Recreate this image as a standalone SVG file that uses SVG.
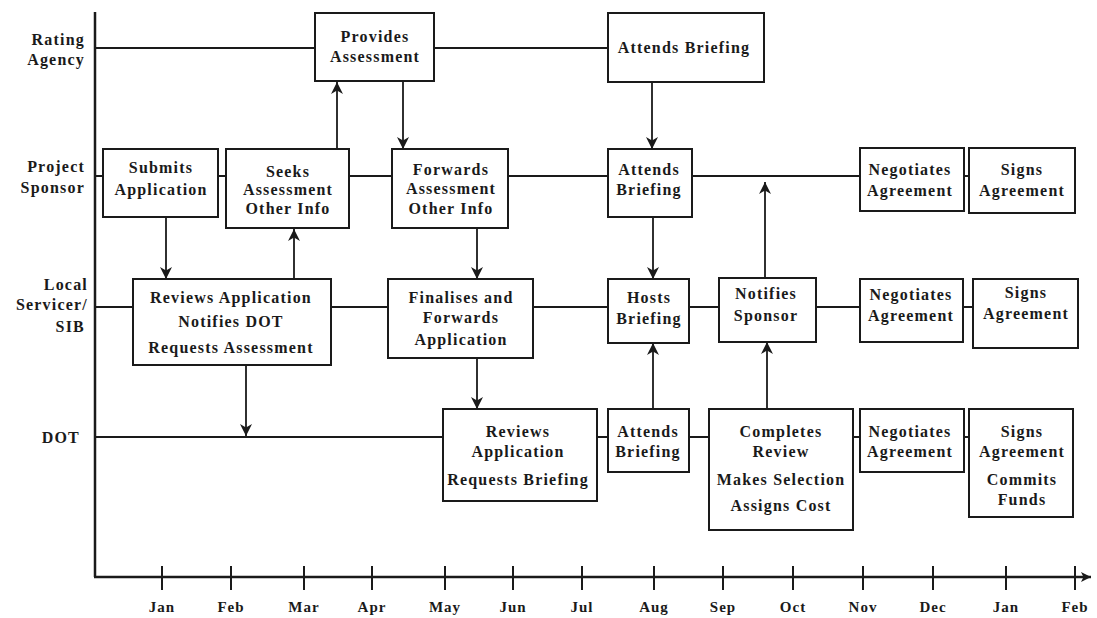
<svg xmlns="http://www.w3.org/2000/svg" width="1097" height="618" viewBox="0 0 1097 618">
<style>
  .bg { fill: #ffffff; }
  .box { fill: #ffffff; stroke: #1a1a1a; stroke-width: 2; }
  .lane { stroke: #1a1a1a; stroke-width: 1.8; fill: none; }
  .conn { stroke: #1a1a1a; stroke-width: 1.8; fill: none; marker-end: url(#arrow); }
  .axis { stroke: #1a1a1a; stroke-width: 2.5; fill: none; }
  .tick { stroke: #1a1a1a; stroke-width: 2; }
  text { font-family: "Liberation Serif", "Times New Roman", serif; font-weight: bold; fill: #1a1a1a; }
  .t { font-size: 16px; letter-spacing: 1.2px; text-anchor: middle; }
  .lbl { font-size: 16px; letter-spacing: 1.2px; text-anchor: end; }
  .mon { font-size: 15px; letter-spacing: 1px; text-anchor: middle; }
</style>
<defs>
  <marker id="arrow" markerUnits="userSpaceOnUse" markerWidth="14" markerHeight="14" refX="12" refY="6" orient="auto">
    <path d="M0,0 L12,6 L0,12 L3.5,6 Z" fill="#1a1a1a"/>
  </marker>
  <marker id="axisarrow" markerUnits="userSpaceOnUse" markerWidth="12" markerHeight="12" refX="10" refY="5" orient="auto">
    <path d="M0,0 L10,5 L0,10 L2.5,5 Z" fill="#1a1a1a"/>
  </marker>
</defs>
<rect class="bg" x="0" y="0" width="1097" height="618"/>

<g id="axes">
  <line class="axis" x1="95" y1="12" x2="95" y2="577"/>
  <line class="axis" x1="94" y1="577" x2="1091" y2="577" marker-end="url(#axisarrow)"/>
  <g id="ticks">
    <line class="tick" x1="162" y1="566" x2="162" y2="590"/>
    <line class="tick" x1="231" y1="566" x2="231" y2="590"/>
    <line class="tick" x1="304" y1="566" x2="304" y2="590"/>
    <line class="tick" x1="372" y1="566" x2="372" y2="590"/>
    <line class="tick" x1="445" y1="566" x2="445" y2="590"/>
    <line class="tick" x1="513" y1="566" x2="513" y2="590"/>
    <line class="tick" x1="582" y1="566" x2="582" y2="590"/>
    <line class="tick" x1="654" y1="566" x2="654" y2="590"/>
    <line class="tick" x1="723" y1="566" x2="723" y2="590"/>
    <line class="tick" x1="793" y1="566" x2="793" y2="590"/>
    <line class="tick" x1="863" y1="566" x2="863" y2="590"/>
    <line class="tick" x1="933" y1="566" x2="933" y2="590"/>
    <line class="tick" x1="1006" y1="566" x2="1006" y2="590"/>
    <line class="tick" x1="1075" y1="566" x2="1075" y2="590"/>
  </g>
  <g id="months">
    <text class="mon" x="162" y="612">Jan</text>
    <text class="mon" x="231" y="612">Feb</text>
    <text class="mon" x="304" y="612">Mar</text>
    <text class="mon" x="372" y="612">Apr</text>
    <text class="mon" x="445" y="612">May</text>
    <text class="mon" x="513" y="612">Jun</text>
    <text class="mon" x="582" y="612">Jul</text>
    <text class="mon" x="654" y="612">Aug</text>
    <text class="mon" x="723" y="612">Sep</text>
    <text class="mon" x="793" y="612">Oct</text>
    <text class="mon" x="863" y="612">Nov</text>
    <text class="mon" x="933" y="612">Dec</text>
    <text class="mon" x="1006" y="612">Jan</text>
    <text class="mon" x="1075" y="612">Feb</text>
  </g>
</g>

<g id="lane-labels">
  <text class="lbl" x="85" y="45">Rating</text>
  <text class="lbl" x="85" y="65">Agency</text>
  <text class="lbl" x="85" y="172">Project</text>
  <text class="lbl" x="85" y="193">Sponsor</text>
  <text class="lbl" x="88" y="290">Local</text>
  <text class="lbl" x="88" y="310">Servicer/</text>
  <text class="lbl" x="85" y="332">SIB</text>
  <text class="lbl" x="80" y="443">DOT</text>
</g>

<g id="connectors">
  <line class="lane" x1="95" y1="48" x2="315" y2="48"/>
  <line class="lane" x1="434" y1="48" x2="608" y2="48"/>
  <line class="lane" x1="95" y1="176" x2="969" y2="176"/>
  <line class="lane" x1="95" y1="307" x2="973" y2="307"/>
  <line class="lane" x1="95" y1="437" x2="969" y2="437"/>
  <line class="conn" x1="337" y1="149" x2="337" y2="82"/>
  <line class="conn" x1="403" y1="81" x2="403" y2="149"/>
  <line class="conn" x1="652" y1="82" x2="652" y2="149"/>
  <line class="conn" x1="166" y1="217" x2="166" y2="279"/>
  <line class="conn" x1="294" y1="279" x2="294" y2="229"/>
  <line class="conn" x1="477" y1="228" x2="477" y2="279"/>
  <line class="conn" x1="653" y1="217" x2="653" y2="279"/>
  <line class="conn" x1="765" y1="278" x2="765" y2="182"/>
  <line class="conn" x1="246" y1="365" x2="246" y2="436"/>
  <line class="conn" x1="477" y1="358" x2="477" y2="409"/>
  <line class="conn" x1="653" y1="409" x2="653" y2="343"/>
  <line class="conn" x1="767" y1="409" x2="767" y2="342"/>
</g>

<g id="provides-assessment">
  <rect class="box" x="315" y="13" width="119" height="68"/>
  <text class="t" x="375" y="42">Provides</text>
  <text class="t" x="375" y="62">Assessment</text>
</g>
<g id="rating-attends-briefing">
  <rect class="box" x="608" y="13" width="156" height="69"/>
  <text class="t" x="684" y="53">Attends  Briefing</text>
</g>
<g id="submits-application">
  <rect class="box" x="103" y="149" width="115" height="68"/>
  <text class="t" x="161" y="173">Submits</text>
  <text class="t" x="161" y="195">Application</text>
</g>
<g id="seeks-assessment">
  <rect class="box" x="226" y="149" width="123" height="79"/>
  <text class="t" x="288" y="177">Seeks</text>
  <text class="t" x="288" y="195">Assessment</text>
  <text class="t" x="288" y="214">Other Info</text>
</g>
<g id="forwards-assessment">
  <rect class="box" x="392" y="149" width="116" height="79"/>
  <text class="t" x="451" y="175">Forwards</text>
  <text class="t" x="451" y="194">Assessment</text>
  <text class="t" x="451" y="214">Other Info</text>
</g>
<g id="sponsor-attends-briefing">
  <rect class="box" x="608" y="149" width="84" height="68"/>
  <text class="t" x="649" y="175">Attends</text>
  <text class="t" x="649" y="195">Briefing</text>
</g>
<g id="sponsor-negotiates">
  <rect class="box" x="860" y="148" width="104" height="63"/>
  <text class="t" x="910" y="175">Negotiates</text>
  <text class="t" x="910" y="196">Agreement</text>
</g>
<g id="sponsor-signs">
  <rect class="box" x="969" y="148" width="106" height="65"/>
  <text class="t" x="1022" y="175">Signs</text>
  <text class="t" x="1022" y="196">Agreement</text>
</g>
<g id="reviews-application-local">
  <rect class="box" x="133" y="279" width="198" height="86"/>
  <text class="t" x="231" y="303">Reviews Application</text>
  <text class="t" x="231" y="327">Notifies DOT</text>
  <text class="t" x="231" y="353">Requests Assessment</text>
</g>
<g id="finalises-forwards">
  <rect class="box" x="388" y="279" width="145" height="79"/>
  <text class="t" x="461" y="303">Finalises and</text>
  <text class="t" x="461" y="323">Forwards</text>
  <text class="t" x="461" y="345">Application</text>
</g>
<g id="hosts-briefing">
  <rect class="box" x="608" y="279" width="81" height="64"/>
  <text class="t" x="649" y="303">Hosts</text>
  <text class="t" x="649" y="324">Briefing</text>
</g>
<g id="notifies-sponsor">
  <rect class="box" x="719" y="278" width="97" height="64"/>
  <text class="t" x="766" y="299">Notifies</text>
  <text class="t" x="766" y="321">Sponsor</text>
</g>
<g id="local-negotiates">
  <rect class="box" x="860" y="279" width="103" height="63"/>
  <text class="t" x="911" y="300">Negotiates</text>
  <text class="t" x="911" y="321">Agreement</text>
</g>
<g id="local-signs">
  <rect class="box" x="973" y="279" width="105" height="69"/>
  <text class="t" x="1026" y="298">Signs</text>
  <text class="t" x="1026" y="319">Agreement</text>
</g>
<g id="dot-reviews-application">
  <rect class="box" x="443" y="409" width="154" height="92"/>
  <text class="t" x="518" y="437">Reviews</text>
  <text class="t" x="518" y="457">Application</text>
  <text class="t" x="518" y="485">Requests Briefing</text>
</g>
<g id="dot-attends-briefing">
  <rect class="box" x="608" y="409" width="81" height="63"/>
  <text class="t" x="648" y="437">Attends</text>
  <text class="t" x="648" y="457">Briefing</text>
</g>
<g id="completes-review">
  <rect class="box" x="709" y="409" width="144" height="121"/>
  <text class="t" x="781" y="437">Completes</text>
  <text class="t" x="781" y="457">Review</text>
  <text class="t" x="781" y="485">Makes Selection</text>
  <text class="t" x="781" y="511">Assigns Cost</text>
</g>
<g id="dot-negotiates">
  <rect class="box" x="860" y="409" width="104" height="63"/>
  <text class="t" x="910" y="437">Negotiates</text>
  <text class="t" x="910" y="457">Agreement</text>
</g>
<g id="dot-signs">
  <rect class="box" x="969" y="409" width="104" height="108"/>
  <text class="t" x="1022" y="437">Signs</text>
  <text class="t" x="1022" y="457">Agreement</text>
  <text class="t" x="1022" y="485">Commits</text>
  <text class="t" x="1022" y="505">Funds</text>
</g>
</svg>
